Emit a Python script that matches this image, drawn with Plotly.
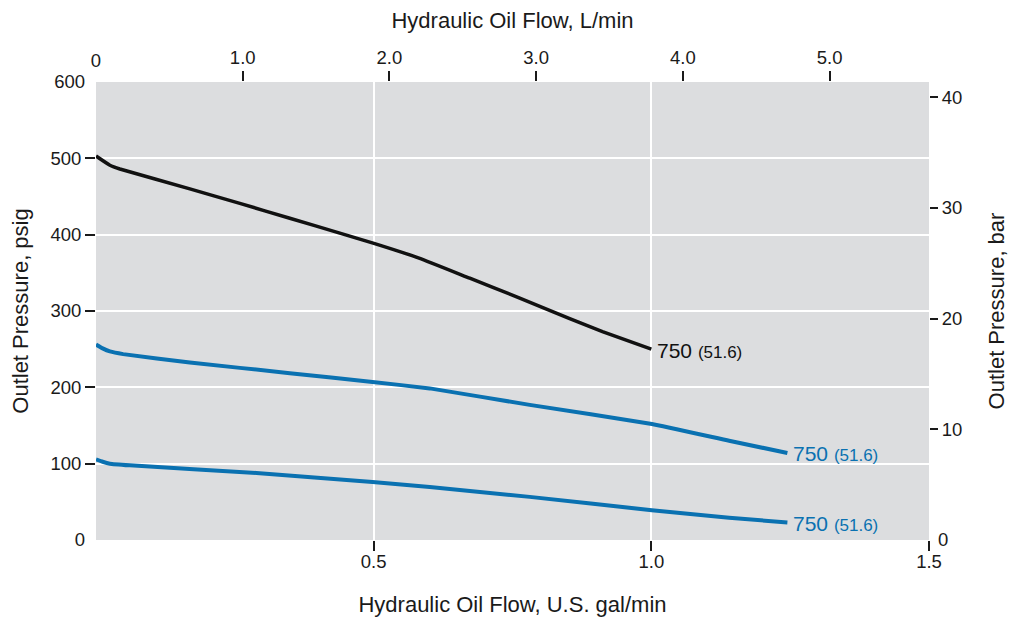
import plotly.graph_objects as go

# Hydraulic oil flow, U.S. gal/min  /  outlet pressure, psig
black_flow = [0.0, 0.025, 0.043, 0.169, 0.259, 0.349, 0.439, 0.499, 0.583, 0.673, 0.763, 0.853, 0.912, 1.0]
black_psig = [503, 491, 486, 460, 441, 421.5, 402, 389, 369, 343, 317, 290, 273, 250]

blue_hi_flow = [0.0, 0.012, 0.025, 0.049, 0.169, 0.349, 0.498, 0.601, 0.781, 1.001, 1.14, 1.245]
blue_hi_psig = [256, 251, 247, 243.5, 232.5, 218.6, 207, 198.6, 177, 152, 130, 114]

blue_lo_flow = [0.0, 0.012, 0.025, 0.061, 0.289, 0.498, 0.601, 0.781, 1.001, 1.14, 1.245]
blue_lo_psig = [105.6, 102.5, 100, 97.8, 87.8, 76, 69.5, 56.5, 39, 29, 23]

curve_labels = ["750", "750", "750"]
curve_labels_bar = ["(51.6)", "(51.6)", "(51.6)"]

gal_ticks = [0.5, 1.0, 1.5]
gal_text = ["0.5", "1.0", "1.5"]
lpm_ticks = [1, 2, 3, 4, 5]
lpm_text = ["1.0", "2.0", "3.0", "4.0", "5.0"]
psig_ticks = [100, 200, 300, 400, 500]
psig_end_ticks = [0, 600]
bar_ticks = [10, 20, 30, 40]

GAL_TO_L = 3.785
PSI_PER_BAR = 14.5038

INK = "#1a1a1a"
BLACK = "#111111"
BLUE = "#0a71b1"
FONT = "Liberation Sans, Arial, Helvetica, sans-serif"

fig = go.Figure()

series = [
    (black_flow, black_psig, BLACK, 3.5),
    (blue_hi_flow, blue_hi_psig, BLUE, 4),
    (blue_lo_flow, blue_lo_psig, BLUE, 4),
]

for i, (xs, ys, col, w) in enumerate(series):
    fig.add_trace(go.Scatter(x=xs, y=ys, mode="lines",
                             line=dict(color=col, width=w, shape="spline", smoothing=0.3),
                             showlegend=False, hoverinfo="skip"))
    fig.add_annotation(x=xs[-1], y=ys[-1], xref="x", yref="y", xanchor="left", yanchor="middle",
                       xshift=4, yshift=-1, showarrow=False,
                       text=f"{curve_labels[i]} <span style='font-size:17px'>{curve_labels_bar[i]}</span>",
                       font=dict(color=col, size=21, family=FONT))

# invisible traces so the extra axes get drawn
for ax in [dict(xaxis="x2"), dict(xaxis="x3"), dict(yaxis="y2"), dict(yaxis="y3"), dict(yaxis="y4")]:
    fig.add_trace(go.Scatter(x=[0], y=[0], mode="markers", marker=dict(opacity=0),
                             showlegend=False, hoverinfo="skip", **ax))

tickfont = dict(size=18.5, color=INK, family=FONT)
titlefont = dict(size=22, color=INK, family=FONT)

tick_style = dict(ticks="outside", ticklen=10, tickcolor=INK, tickwidth=1.5, automargin=False,
                  zeroline=False, showline=False, tickfont=tickfont)
label_only = dict(ticks="", ticklabelstandoff=10, showgrid=False, automargin=False,
                  zeroline=False, showline=False, tickfont=tickfont)

psig_range = [0, 600]
gal_range = [0, 1.5]

fig.update_layout(
    width=1020, height=620,
    margin=dict(l=88, r=99, t=74, b=88),
    paper_bgcolor="white",
    plot_bgcolor="#dcdddf",
    font=dict(family=FONT),
    xaxis=dict(range=gal_range, tickvals=gal_ticks, ticktext=gal_text,
               showgrid=True, gridcolor="white", gridwidth=1.5, ticklabelstandoff=-5, **tick_style,
               title=dict(text="Hydraulic Oil Flow, U.S. gal/min", font=titlefont, standoff=25)),
    xaxis2=dict(range=[0, 1.5 * GAL_TO_L], overlaying="x", side="top", tickvals=lpm_ticks, ticktext=lpm_text,
                showgrid=False, **tick_style,
                title=dict(text="Hydraulic Oil Flow, L/min", font=titlefont, standoff=18)),
    xaxis3=dict(range=[0, 1.5 * GAL_TO_L], overlaying="x", side="top", tickvals=[0], ticktext=["0"],
                **label_only),
    yaxis=dict(range=psig_range, tickvals=psig_ticks,
               showgrid=True, gridcolor="white", gridwidth=1.5, **tick_style,
               title=dict(text="Outlet Pressure, psig", font=titlefont, standoff=18)),
    yaxis3=dict(range=psig_range, overlaying="y", side="left", tickvals=psig_end_ticks, **label_only),
    yaxis2=dict(range=[0, 600 / PSI_PER_BAR], overlaying="y", side="right", tickvals=bar_ticks,
                showgrid=False, **{**tick_style, "ticklen": 8},
                title=dict(text="Outlet Pressure, bar", font=titlefont, standoff=27)),
    yaxis4=dict(range=[0, 600 / PSI_PER_BAR], overlaying="y", side="right", tickvals=[0],
                **{**label_only, "ticklabelstandoff": 8}),
)

fig.write_html("out.html")
